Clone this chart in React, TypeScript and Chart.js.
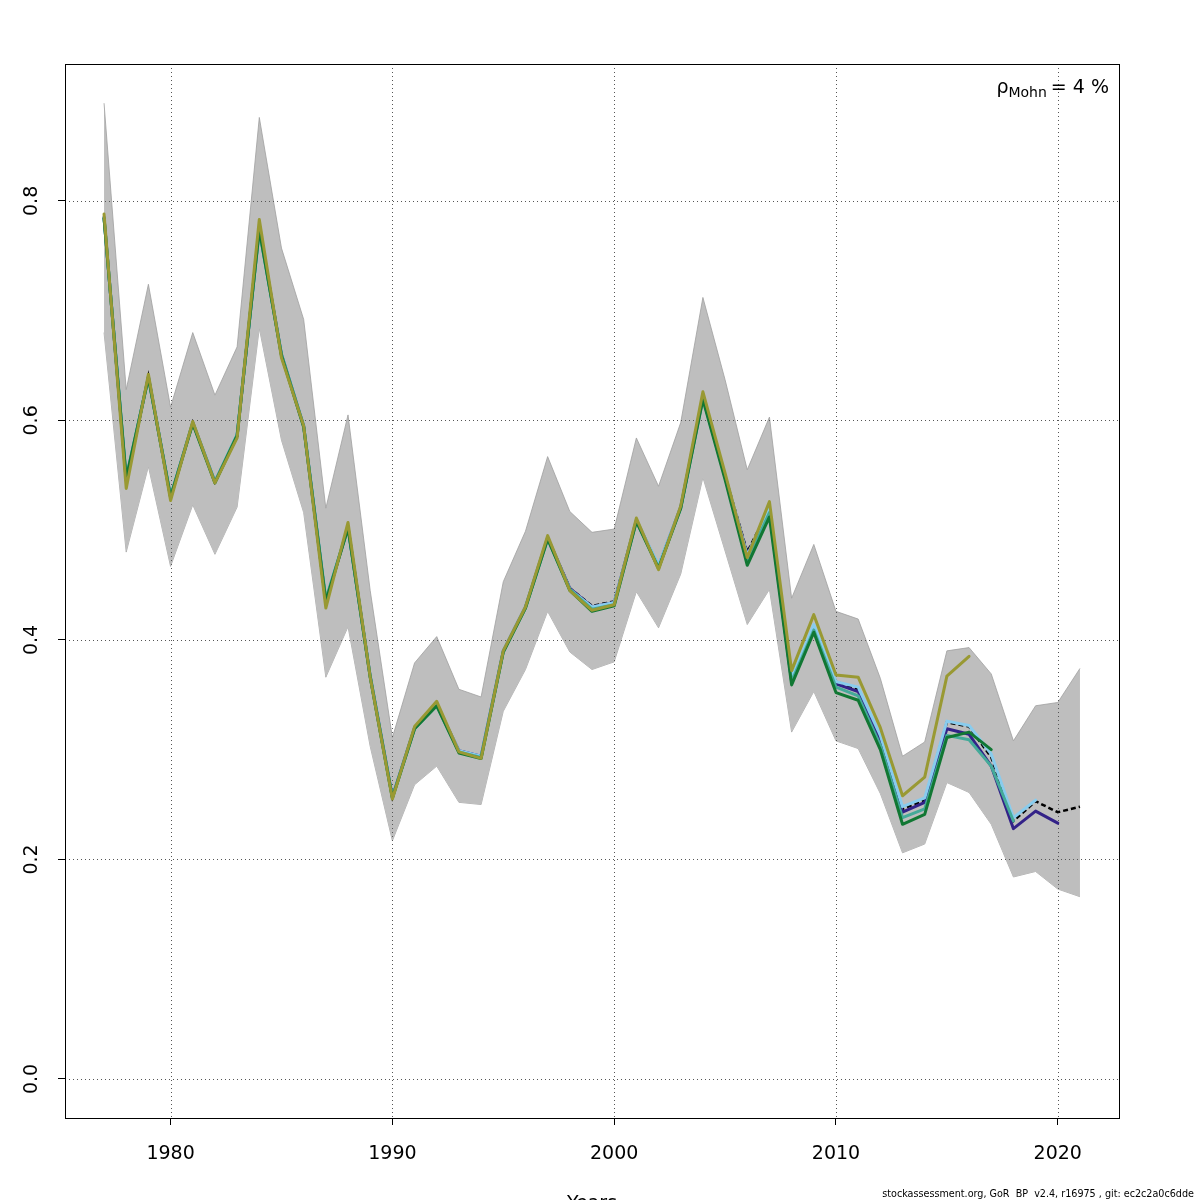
import { useEffect, useRef } from "react"
import { Chart, registerables } from "chart.js"

Chart.register(...registerables)

// years of the assessment
const years = [
  1977, 1978, 1979, 1980, 1981, 1982, 1983, 1984, 1985, 1986,
  1987, 1988, 1989, 1990, 1991, 1992, 1993, 1994, 1995, 1996,
  1997, 1998, 1999, 2000, 2001, 2002, 2003, 2004, 2005, 2006,
  2007, 2008, 2009, 2010, 2011, 2012, 2013, 2014, 2015, 2016,
  2017, 2018, 2019, 2020, 2021,
]

// full run estimate + confidence band
const baseRun = [
  0.785, 0.545, 0.640, 0.530, 0.598, 0.544, 0.586, 0.775, 0.660, 0.595,
  0.435, 0.503, 0.367, 0.257, 0.320, 0.341, 0.299, 0.294, 0.390, 0.430,
  0.493, 0.447, 0.431, 0.435, 0.509, 0.467, 0.521, 0.622, 0.550, 0.480,
  0.520, 0.365, 0.411, 0.362, 0.355, 0.310, 0.246, 0.254, 0.325, 0.321,
  0.293, 0.235, 0.253, 0.243, 0.248,
]
const upperCI = [
  0.889, 0.628, 0.724, 0.612, 0.680, 0.623, 0.667, 0.876, 0.757, 0.692,
  0.520, 0.605, 0.445, 0.311, 0.379, 0.403, 0.355, 0.348, 0.453, 0.499,
  0.567, 0.517, 0.498, 0.501, 0.584, 0.540, 0.598, 0.712, 0.637, 0.555,
  0.603, 0.438, 0.487, 0.426, 0.419, 0.365, 0.294, 0.307, 0.390, 0.393,
  0.369, 0.308, 0.340, 0.343, 0.374,
]
const lowerCI = [
  0.680, 0.480, 0.558, 0.467, 0.523, 0.478, 0.521, 0.684, 0.582, 0.516,
  0.366, 0.412, 0.303, 0.217, 0.268, 0.285, 0.252, 0.250, 0.335, 0.373,
  0.426, 0.389, 0.373, 0.380, 0.444, 0.411, 0.460, 0.548, 0.481, 0.414,
  0.446, 0.316, 0.353, 0.308, 0.301, 0.260, 0.206, 0.214, 0.270, 0.261,
  0.232, 0.184, 0.189, 0.173, 0.166,
]

// retrospective peels (one year dropped each)
const peel1 = [
  0.785, 0.545, 0.640, 0.530, 0.598, 0.544, 0.586, 0.775, 0.660, 0.595,
  0.435, 0.503, 0.367, 0.257, 0.320, 0.341, 0.299, 0.294, 0.390, 0.430,
  0.493, 0.447, 0.430, 0.434, 0.509, 0.467, 0.521, 0.621, 0.549, 0.478,
  0.518, 0.362, 0.410, 0.360, 0.353, 0.307, 0.243, 0.252, 0.319, 0.314,
  0.285, 0.228, 0.244, 0.233,
]
const peel2 = [
  0.785, 0.546, 0.640, 0.530, 0.598, 0.544, 0.587, 0.774, 0.660, 0.595,
  0.436, 0.503, 0.367, 0.257, 0.320, 0.341, 0.299, 0.294, 0.390, 0.430,
  0.493, 0.446, 0.430, 0.434, 0.509, 0.468, 0.521, 0.621, 0.550, 0.477,
  0.520, 0.365, 0.414, 0.362, 0.357, 0.313, 0.248, 0.256, 0.326, 0.322,
  0.296, 0.238, 0.254,
]
const peel3 = [
  0.784, 0.548, 0.639, 0.531, 0.598, 0.544, 0.587, 0.773, 0.660, 0.595,
  0.437, 0.502, 0.367, 0.256, 0.319, 0.340, 0.298, 0.293, 0.389, 0.429,
  0.492, 0.446, 0.428, 0.432, 0.508, 0.466, 0.520, 0.620, 0.548, 0.472,
  0.516, 0.362, 0.409, 0.357, 0.349, 0.304, 0.238, 0.246, 0.313, 0.309,
  0.285, 0.235,
]
const peel4 = [
  0.784, 0.547, 0.639, 0.530, 0.597, 0.543, 0.586, 0.774, 0.659, 0.594,
  0.435, 0.502, 0.366, 0.256, 0.319, 0.340, 0.297, 0.292, 0.389, 0.429,
  0.492, 0.445, 0.426, 0.431, 0.508, 0.465, 0.520, 0.619, 0.546, 0.468,
  0.512, 0.359, 0.407, 0.352, 0.345, 0.300, 0.232, 0.241, 0.311, 0.316,
  0.300,
]
const peel5 = [
  0.788, 0.538, 0.642, 0.527, 0.599, 0.543, 0.584, 0.783, 0.657, 0.595,
  0.429, 0.507, 0.366, 0.255, 0.321, 0.344, 0.298, 0.292, 0.390, 0.430,
  0.495, 0.445, 0.427, 0.432, 0.511, 0.464, 0.522, 0.626, 0.552, 0.475,
  0.526, 0.372, 0.423, 0.368, 0.366, 0.320, 0.258, 0.275, 0.367, 0.385,
]

const peelColors = ["#332288", "#88CCEE", "#44AA99", "#117733", "#999933"]
const peels = [peel1, peel2, peel3, peel4, peel5]

const xMin = 1975.24
const xMax = 2022.76
const yMin = -0.0356
const yMax = 0.9247

const FONT = "DejaVu Sans, Verdana, sans-serif"

const pts = (vals: number[]) => vals.map((v, i) => ({ x: years[i], y: v }))

// grid after the band, texts / box at the end
const decorations = {
  id: "decorations",
  afterDatasetDraw(chart: any, args: any) {
    if (args.index !== 0) return
    const { ctx, chartArea: a, scales } = chart
    ctx.save()
    ctx.strokeStyle = "#555"
    ctx.lineWidth = 1
    ctx.setLineDash([1, 3])
    ctx.beginPath()
    scales.x.ticks.forEach((t: any) => {
      const px = Math.round(scales.x.getPixelForValue(t.value)) + 0.5
      ctx.moveTo(px, a.top)
      ctx.lineTo(px, a.bottom)
    })
    scales.y.ticks.forEach((t: any) => {
      const py = Math.round(scales.y.getPixelForValue(t.value)) + 0.5
      ctx.moveTo(a.left, py)
      ctx.lineTo(a.right, py)
    })
    ctx.stroke()
    ctx.restore()
  },
  afterDraw(chart: any) {
    const { ctx, chartArea: a, scales } = chart
    ctx.save()
    ctx.strokeStyle = "#000"
    ctx.lineWidth = 1
    ctx.strokeRect(Math.round(a.left) + 0.5, Math.round(a.top) + 0.5, Math.round(a.right - a.left), Math.round(a.bottom - a.top))

    // y tick labels, rotated like R's las=0
    ctx.fillStyle = "#000"
    ctx.font = `19px ${FONT}`
    ctx.textAlign = "center"
    ctx.textBaseline = "alphabetic"
    scales.y.ticks.forEach((t: any) => {
      const py = scales.y.getPixelForValue(t.value)
      ctx.save()
      ctx.translate(37, py)
      ctx.rotate(-Math.PI / 2)
      ctx.fillText(t.value.toFixed(1), 0, 0)
      ctx.restore()
    })

    // rho Mohn
    ctx.textAlign = "left"
    const right = 1109
    ctx.font = `19px ${FONT}`
    const tail = "= 4 %"
    const wTail = ctx.measureText(tail).width
    ctx.font = `14px ${FONT}`
    const sub = "Mohn"
    const wSub = ctx.measureText(sub).width
    ctx.font = `19px ${FONT}`
    const wRho = ctx.measureText("ρ").width
    let x = right - wTail - 4 - wSub - wRho
    ctx.fillText("ρ", x, 93)
    x += wRho
    ctx.font = `14px ${FONT}`
    ctx.fillText(sub, x, 97)
    x += wSub + 4
    ctx.font = `19px ${FONT}`
    ctx.fillText(tail, x, 93)

    // axis title (mostly off the page, as in the original)
    ctx.textAlign = "center"
    ctx.fillText("Years", (a.left + a.right) / 2, 1209)

    // footer
    ctx.textAlign = "right"
    ctx.font = `10.7px "Liberation Sans Narrow", "DejaVu Sans Condensed", sans-serif`
    ctx.fillText("stockassessment.org, GoR  BP  v2.4, r16975 , git: ec2c2a0c6dde", 1194, 1197)
    ctx.restore()
  },
}

export default function App() {
  const canvasRef = useRef<HTMLCanvasElement>(null)
  const chartRef = useRef<Chart | null>(null)

  useEffect(() => {
    document.body.style.margin = "0"
    if (!canvasRef.current) return
    const ctx = canvasRef.current.getContext("2d")
    if (!ctx) return
    chartRef.current?.destroy()

    const peelSets = peels.map((p, i) => ({
      label: `peel ${i + 1}`,
      data: pts(p),
      borderColor: peelColors[i],
      borderWidth: 3,
      pointRadius: 0,
      fill: false,
      tension: 0,
      borderJoinStyle: "round" as const,
      borderCapStyle: "round" as const,
      order: 5 - i,
    }))

    chartRef.current = new Chart(ctx, {
      type: "line",
      data: {
        datasets: [
          {
            label: "upper",
            data: pts(upperCI),
            borderColor: "rgba(160,160,160,0.8)",
            borderWidth: 1,
            backgroundColor: "#bebebe",
            pointRadius: 0,
            fill: "+1",
            order: 11,
          },
          {
            label: "lower",
            data: pts(lowerCI),
            borderColor: "rgba(160,160,160,0.8)",
            borderWidth: 1,
            pointRadius: 0,
            fill: false,
            order: 12,
          },
          {
            label: "base",
            data: pts(baseRun),
            borderColor: "#000",
            borderWidth: 2.5,
            borderDash: [5, 3],
            pointRadius: 0,
            fill: false,
            order: 6,
          },
          ...peelSets,
        ],
      },
      options: {
        animation: false,
        responsive: false,
        devicePixelRatio: 1,
        layout: { padding: { top: 64, right: 81, left: 0, bottom: 0 } },
        plugins: {
          legend: { display: false },
          tooltip: { enabled: false },
          filler: { propagate: false },
        },
        font: { family: FONT },
        scales: {
          x: {
            type: "linear",
            min: xMin,
            max: xMax,
            ticks: {
              stepSize: 10,
              includeBounds: false,
              color: "#000",
              font: { family: FONT, size: 19 },
              padding: 18,
              maxRotation: 0,
              callback: (v: any) => String(v),
            },
            grid: { drawOnChartArea: false, drawTicks: true, tickLength: 7, tickColor: "#000", tickWidth: 1 },
            border: { display: false },
            afterFit: (s: any) => { s.height = 82 },
          },
          y: {
            type: "linear",
            min: yMin,
            max: yMax,
            ticks: { stepSize: 0.2, includeBounds: false, display: false },
            grid: { drawOnChartArea: false, drawTicks: true, tickLength: 7, tickColor: "#000", tickWidth: 1 },
            border: { display: false },
            afterFit: (s: any) => { s.width = 65 },
          },
        },
      },
      plugins: [decorations],
    } as any)

    return () => { chartRef.current?.destroy() }
  }, [])

  return (
    <div style={{ width: 1200, height: 1200, background: "#fff" }}>
      <canvas ref={canvasRef} width={1200} height={1200} aria-label="Retrospective plot" role="img" />
    </div>
  )
}
